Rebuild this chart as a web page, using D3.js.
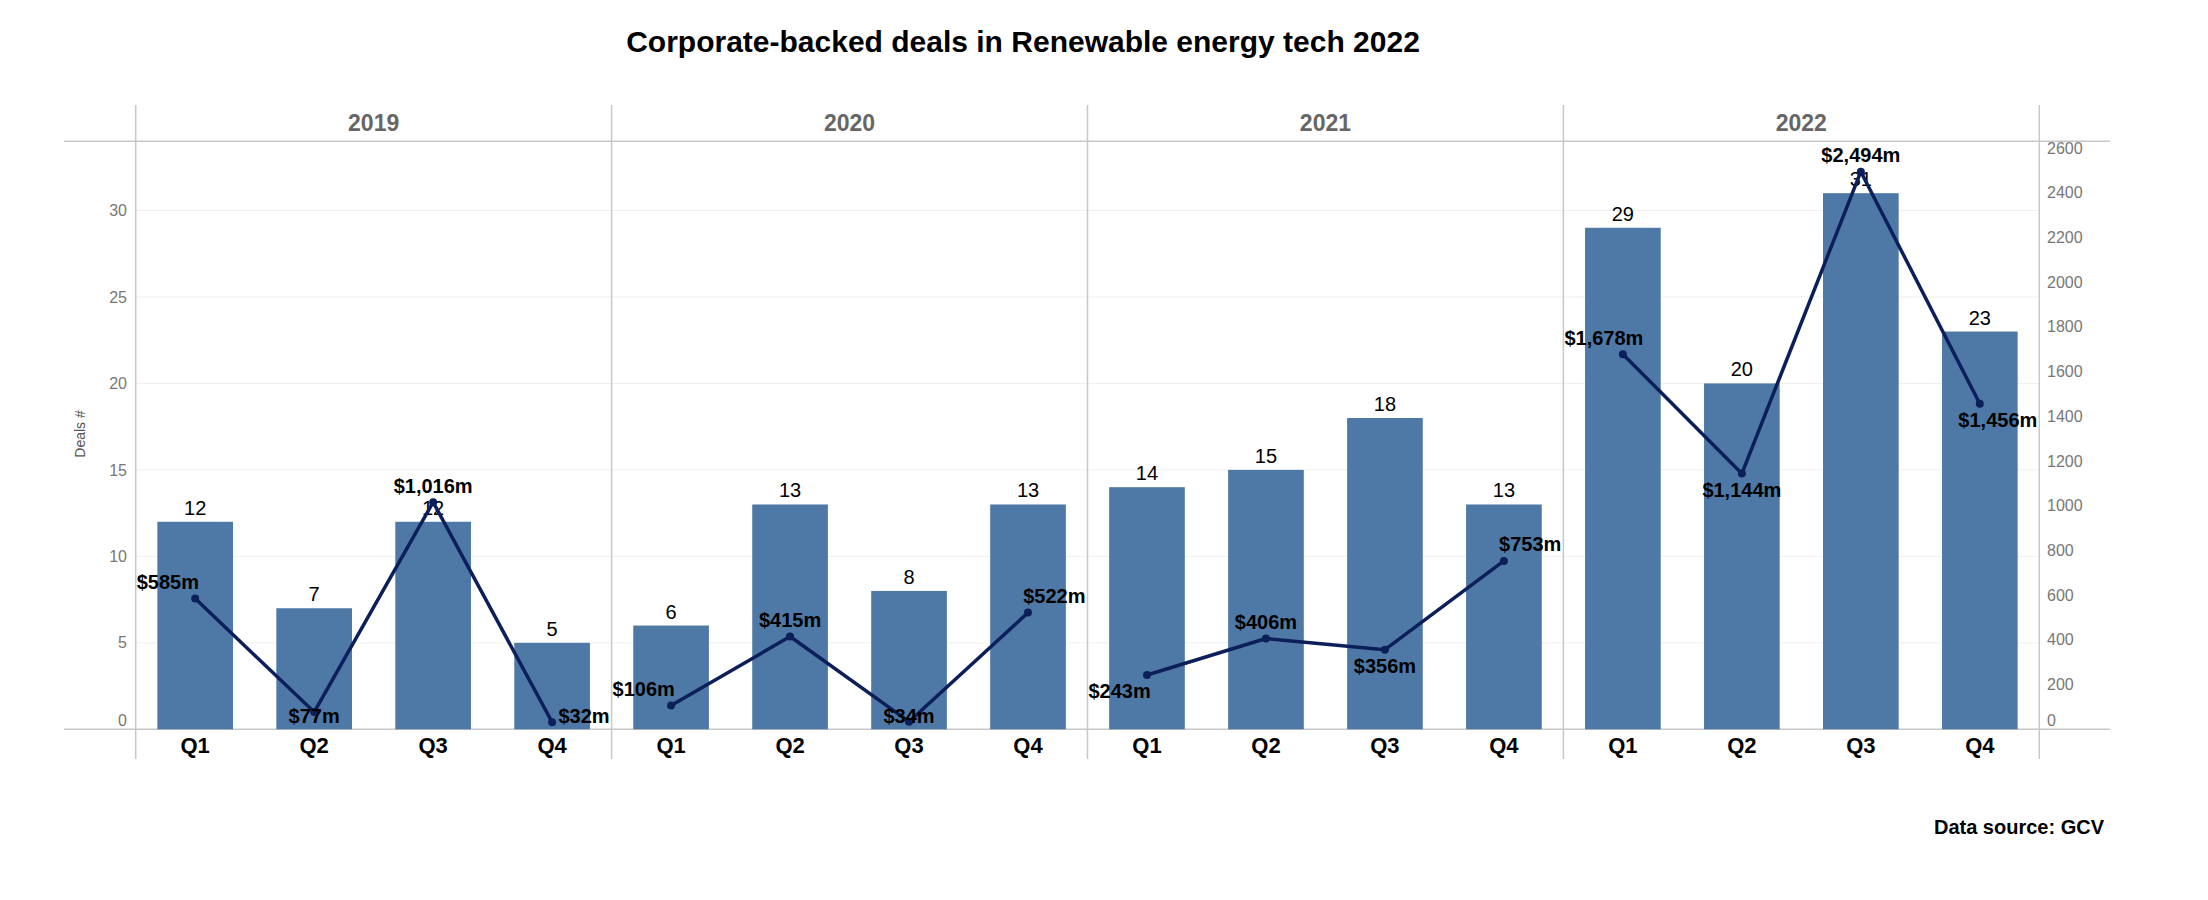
<!DOCTYPE html>
<html>
<head>
<meta charset="utf-8">
<script src="https://cdn.jsdelivr.net/npm/d3@7"></script>
<style>
  body { margin: 0; background: #ffffff; }
  text { font-family: "Liberation Sans", Arial, sans-serif; }
</style>
</head>
<body>
<div id="chart"></div>
<script>
// Chart data
var years = ["2019", "2020", "2021", "2022"];
var quarters = ["Q1", "Q2", "Q3", "Q4"];

// Number of deals per quarter, one list per year
var deals = [
  [12, 7, 12, 5],
  [6, 13, 8, 13],
  [14, 15, 18, 13],
  [29, 20, 31, 23]
];

// Deal value in $m per quarter, one list per year
var amounts = [
  [585, 77, 1016, 32],
  [106, 415, 34, 522],
  [243, 406, 356, 753],
  [1678, 1144, 2494, 1456]
];

// Whether each amount label sits above (n) or below (s) its point
var amountLabelSide = [
  ["n", "s", "n", "s"],
  ["n", "n", "s", "n"],
  ["s", "n", "s", "n"],
  ["n", "s", "n", "s"]
];

var leftTicks = [0, 5, 10, 15, 20, 25, 30];
var rightTicks = [0, 200, 400, 600, 800, 1000, 1200, 1400, 1600, 1800, 2000, 2200, 2400, 2600];

// SVG size
var svgWidth = 2208;
var svgHeight = 900;

// Plot area bounds
var plotLeft = 135.7;
var plotRight = 2039.3;
var plotTop = 141.3;
var plotBottom = 729.3;
var lineLeft = 64;
var lineRight = 2110;

var svg = d3.select("#chart")
  .append("svg")
  .attr("width", svgWidth)
  .attr("height", svgHeight);

// Flatten into rows so every mark is drawn from the arrays
var rows = [];
years.forEach(function (yr, i) {
  quarters.forEach(function (q, j) {
    rows.push({
      year: yr,
      quarter: q,
      qi: j,
      deals: deals[i][j],
      amount: amounts[i][j],
      side: amountLabelSide[i][j]
    });
  });
});

// Scales
var xYear = d3.scaleBand()
  .domain(years)
  .range([plotLeft, plotRight]);

var xQuarter = d3.scaleBand()
  .domain(quarters)
  .range([0, xYear.bandwidth()])
  .paddingInner(0.364)
  .paddingOuter(0.182);

var yDeals = d3.scaleLinear()
  .domain([0, 34])
  .range([plotBottom, plotTop]);

var yAmount = d3.scaleLinear()
  .domain([0, 2630])
  .range([plotBottom, plotTop]);

function xCenter(d) {
  return xYear(d.year) + xQuarter(d.quarter) + xQuarter.bandwidth() / 2;
}

// Title
svg.append("text")
  .attr("x", 1023)
  .attr("y", 52)
  .attr("text-anchor", "middle")
  .style("font-size", "30px")
  .style("font-weight", "bold")
  .style("fill", "#000")
  .text("Corporate-backed deals in Renewable energy tech 2022");

// Horizontal gridlines from the left axis
svg.append("g")
  .selectAll("line")
  .data(leftTicks.filter(d => d > 0))
  .enter()
  .append("line")
  .attr("x1", plotLeft)
  .attr("x2", plotRight)
  .attr("y1", d => yDeals(d))
  .attr("y2", d => yDeals(d))
  .attr("stroke", "#efefef")
  .attr("stroke-width", 1);

// Header and baseline rules
[plotTop, plotBottom].forEach(function (yy) {
  svg.append("line")
    .attr("x1", lineLeft)
    .attr("x2", lineRight)
    .attr("y1", yy)
    .attr("y2", yy)
    .attr("stroke", "#c8c8c8")
    .attr("stroke-width", 1.5);
});

// Pane dividers
var dividers = years.map(d => xYear(d)).concat([plotRight]);
svg.append("g")
  .selectAll("line")
  .data(dividers)
  .enter()
  .append("line")
  .attr("x1", d => d)
  .attr("x2", d => d)
  .attr("y1", 105)
  .attr("y2", 759)
  .attr("stroke", "#c8c8c8")
  .attr("stroke-width", 1.5);

// Year headers
svg.append("g")
  .selectAll("text")
  .data(years)
  .enter()
  .append("text")
  .attr("x", d => xYear(d) + xYear.bandwidth() / 2)
  .attr("y", 131)
  .attr("text-anchor", "middle")
  .style("font-size", "23px")
  .style("font-weight", "bold")
  .style("fill", "#666")
  .text(d => d);

// Left axis
var leftAxis = d3.axisLeft(yDeals)
  .tickValues(leftTicks)
  .tickSize(0)
  .tickPadding(0);

var leftG = svg.append("g")
  .attr("transform", `translate(127, 0)`)
  .call(leftAxis);
leftG.select(".domain").remove();
leftG.selectAll("text")
  .style("font-size", "16px")
  .style("fill", "#777")
  .style("font-family", "Liberation Sans, Arial, sans-serif")
  .attr("y", d => d === 0 ? -9 : 0);

// Right axis
var rightAxis = d3.axisRight(yAmount)
  .tickValues(rightTicks)
  .tickSize(0)
  .tickPadding(0)
  .tickFormat(d3.format("d"));

var rightG = svg.append("g")
  .attr("transform", `translate(2047, 0)`)
  .call(rightAxis);
rightG.select(".domain").remove();
rightG.selectAll("text")
  .style("font-size", "16px")
  .style("fill", "#777")
  .style("font-family", "Liberation Sans, Arial, sans-serif")
  .attr("y", d => d === 0 ? -9 : 0);

// Left axis title
svg.append("text")
  .attr("transform", "rotate(-90)")
  .attr("x", -434)
  .attr("y", 85)
  .attr("text-anchor", "middle")
  .style("font-size", "14px")
  .style("fill", "#555")
  .text("Deals #");

// Bars
svg.append("g")
  .selectAll("rect")
  .data(rows)
  .enter()
  .append("rect")
  .attr("x", d => xYear(d.year) + xQuarter(d.quarter))
  .attr("width", xQuarter.bandwidth())
  .attr("y", d => yDeals(d.deals))
  .attr("height", d => plotBottom - yDeals(d.deals))
  .attr("fill", "#4e79a7");

// Bar labels
svg.append("g")
  .selectAll("text")
  .data(rows)
  .enter()
  .append("text")
  .attr("x", xCenter)
  .attr("y", d => yDeals(d.deals) - 7)
  .attr("text-anchor", "middle")
  .style("font-size", "20px")
  .style("fill", "#000")
  .text(d => d.deals);

// Quarter labels
svg.append("g")
  .selectAll("text")
  .data(rows)
  .enter()
  .append("text")
  .attr("x", xCenter)
  .attr("y", 753)
  .attr("text-anchor", "middle")
  .style("font-size", "22px")
  .style("font-weight", "bold")
  .style("fill", "#000")
  .text(d => d.quarter);

// Amount line, one per year
var line = d3.line()
  .x(xCenter)
  .y(d => yAmount(d.amount));

years.forEach(function (yr) {
  svg.append("path")
    .datum(rows.filter(d => d.year === yr))
    .attr("d", line)
    .attr("fill", "none")
    .attr("stroke", "#0c1f5b")
    .attr("stroke-width", 3.5)
    .attr("stroke-linejoin", "round");
});

svg.append("g")
  .selectAll("circle")
  .data(rows)
  .enter()
  .append("circle")
  .attr("cx", xCenter)
  .attr("cy", d => yAmount(d.amount))
  .attr("r", 4)
  .attr("fill", "#0c1f5b");

// Amount labels: first and last of each pane hug the pane edge
var fmt = d3.format(",");
var amountLabels = svg.append("g")
  .selectAll("text")
  .data(rows)
  .enter()
  .append("text")
  .style("font-size", "20px")
  .style("font-weight", "bold")
  .style("fill", "#000")
  .attr("dominant-baseline", "central")
  .text(d => "$" + fmt(d.amount) + "m");

amountLabels.each(function (d) {
  var w = this.getComputedTextLength();
  var cx = xCenter(d);
  var cy = yAmount(d.amount);
  var paneL = xYear(d.year);
  var paneR = paneL + xYear.bandwidth();
  var lx = cx;
  if (d.qi === 0) lx = paneL + 1 + w / 2;
  if (d.qi === quarters.length - 1) lx = paneR - 2 - w / 2;
  var ly = d.side === "n" ? cy - 16.5 : cy + 16;
  ly = Math.min(plotBottom - 13, ly);
  d3.select(this)
    .attr("x", lx)
    .attr("y", ly)
    .attr("text-anchor", "middle");
});

// Source note
svg.append("text")
  .attr("x", 2104)
  .attr("y", 834)
  .attr("text-anchor", "end")
  .style("font-size", "20px")
  .style("font-weight", "bold")
  .style("fill", "#000")
  .text("Data source: GCV");
</script>
</body>
</html>
